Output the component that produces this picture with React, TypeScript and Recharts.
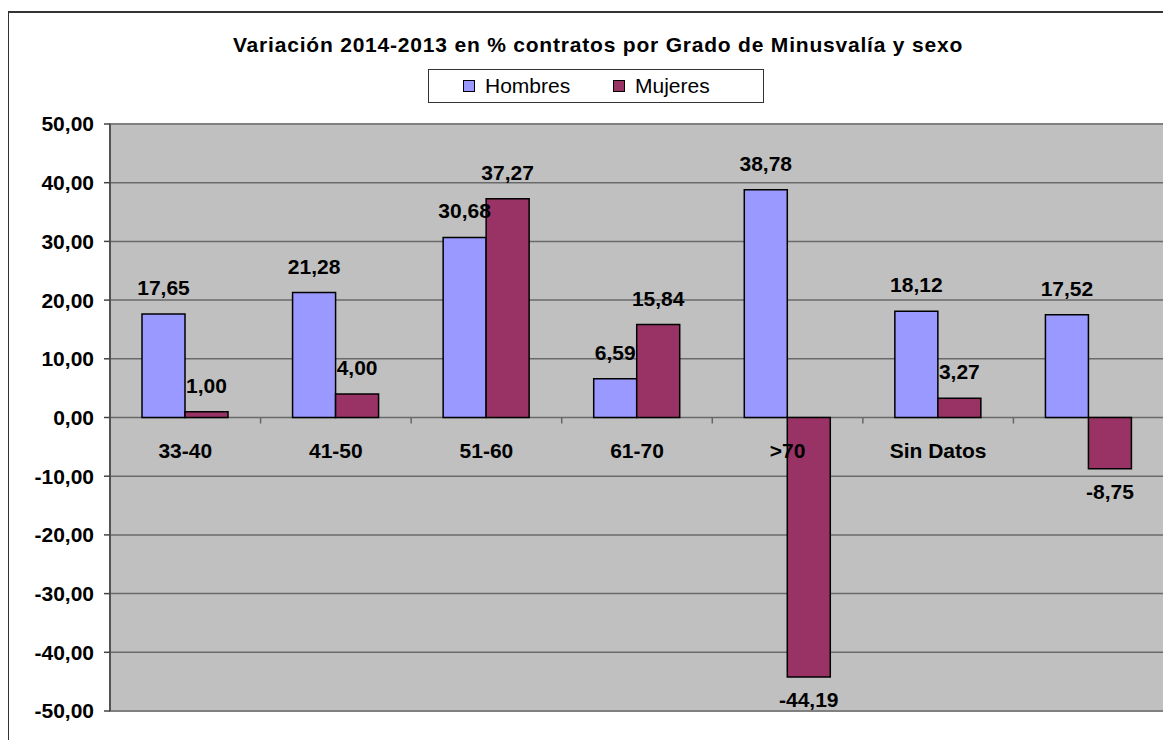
import React from 'react';
import {
  BarChart,
  Bar,
  XAxis,
  YAxis,
  CartesianGrid,
  ReferenceArea,
  LabelList,
} from 'recharts';

const categories = ['33-40', '41-50', '51-60', '61-70', '>70', 'Sin Datos', ''];
const hombres = [17.65, 21.28, 30.68, 6.59, 38.78, 18.12, 17.52];
const mujeres = [1.0, 4.0, 37.27, 15.84, -44.19, 3.27, -8.75];
const yTicks = [-50, -40, -30, -20, -10, 0, 10, 20, 30, 40, 50];

const series = [
  { key: 'hombres', name: 'Hombres', color: '#9999FF' },
  { key: 'mujeres', name: 'Mujeres', color: '#993366' },
];

const data = categories.map((cat, i) => ({
  cat,
  hombres: hombres[i],
  mujeres: mujeres[i],
}));

const FONT = 'Arial, "Liberation Sans", sans-serif';
const W = 1163;
const H = 732;
const MARGIN = { top: 116, right: 7, bottom: 0, left: 0 };
const Y_AXIS_W = 102;
const X_AXIS_H = 29;
const PLOT_TOP = MARGIN.top;
const PLOT_BOTTOM = H - X_AXIS_H;
const ZERO_Y = (PLOT_TOP + PLOT_BOTTOM) / 2;
const BAND = (W - MARGIN.right - Y_AXIS_W) / categories.length;

const fmt = (v: number) => v.toFixed(2).replace('.', ',');

function BarLabel(props: any) {
  const { x, y, width, height, value } = props;
  const top = Math.min(y, y + height);
  const bottom = Math.max(y, y + height);
  const ty = value >= 0 ? top - 19 : bottom + 30;
  return (
    <text
      x={x + width / 2}
      y={ty}
      textAnchor="middle"
      fontFamily={FONT}
      fontWeight="bold"
      fontSize={21}
      fill="#000"
    >
      {fmt(value)}
    </text>
  );
}

function CategoryTick(props: any) {
  const { x, payload } = props;
  return (
    <g>
      <text
        x={x}
        y={ZERO_Y + 40}
        textAnchor="middle"
        fontFamily={FONT}
        fontWeight="bold"
        fontSize={21}
        fill="#000"
      >
        {payload.value}
      </text>
      <line x1={x + BAND / 2} x2={x + BAND / 2} y1={ZERO_Y} y2={ZERO_Y + 6} stroke="#666" strokeWidth={1.5} />
    </g>
  );
}

function LegendBox() {
  return (
    <div
      style={{
        position: 'absolute',
        left: 420,
        top: 61,
        width: 336,
        height: 34,
        border: '1.5px solid #333',
        boxSizing: 'border-box',
        background: '#fff',
        display: 'flex',
        alignItems: 'center',
        paddingLeft: 34,
        fontFamily: FONT,
        fontSize: 21,
      }}
    >
      {series.map((s) => (
        <div key={s.key} style={{ display: 'flex', alignItems: 'center', width: 174 }}>
          <span
            style={{
              display: 'inline-block',
              width: 10,
              height: 10,
              background: s.color,
              border: '1.5px solid #000',
              marginRight: 10,
            }}
          />
          <span>{s.name}</span>
        </div>
      ))}
    </div>
  );
}

export default function App() {
  return (
    <div style={{ position: 'relative', width: W, height: H, overflow: 'hidden' }}>
      <div
        style={{
          position: 'absolute',
          left: -1,
          top: 3,
          width: W + 20,
          height: H + 20,
          borderLeft: '2px solid #333',
          borderTop: '2px solid #333',
        }}
      />
      <div
        style={{
          position: 'absolute',
          left: 0,
          top: 26,
          width: 1180,
          textAlign: 'center',
          fontFamily: FONT,
          fontWeight: 'bold',
          fontSize: 21,
          letterSpacing: 0.8,
          lineHeight: '22px',
        }}
      >
        Variación 2014-2013 en % contratos por Grado de Minusvalía y sexo
      </div>
      <LegendBox />
      <div style={{ position: 'absolute', left: 0, top: 0 }}>
        <BarChart width={W} height={H} data={data} margin={MARGIN} barGap={0} barSize={43}>
          <CartesianGrid vertical={false} fill="#C0C0C0" stroke="#6a6a6a" strokeWidth={1.5} />
          <ReferenceArea y1={-50} y2={50} fill="none" stroke="#808080" strokeWidth={2} />
          <XAxis
            dataKey="cat"
            height={X_AXIS_H}
            interval={0}
            axisLine={false}
            tickLine={false}
            tick={<CategoryTick />}
          />
          <YAxis
            width={Y_AXIS_W}
            domain={[-50, 50]}
            ticks={yTicks}
            interval={0}
            tickFormatter={fmt}
            tickSize={6}
            tickMargin={10}
            axisLine={{ stroke: '#444', strokeWidth: 1.5 }}
            tickLine={{ stroke: '#444', strokeWidth: 1.5 }}
            tick={{ fontFamily: FONT, fontWeight: 'bold', fontSize: 21, fill: '#000' }}
          />
          {series.map((s) => (
            <Bar
              key={s.key}
              dataKey={s.key}
              name={s.name}
              fill={s.color}
              stroke="#000"
              strokeWidth={1.5}
              isAnimationActive={false}
            >
              <LabelList dataKey={s.key} content={<BarLabel />} />
            </Bar>
          ))}
        </BarChart>
      </div>
    </div>
  );
}
